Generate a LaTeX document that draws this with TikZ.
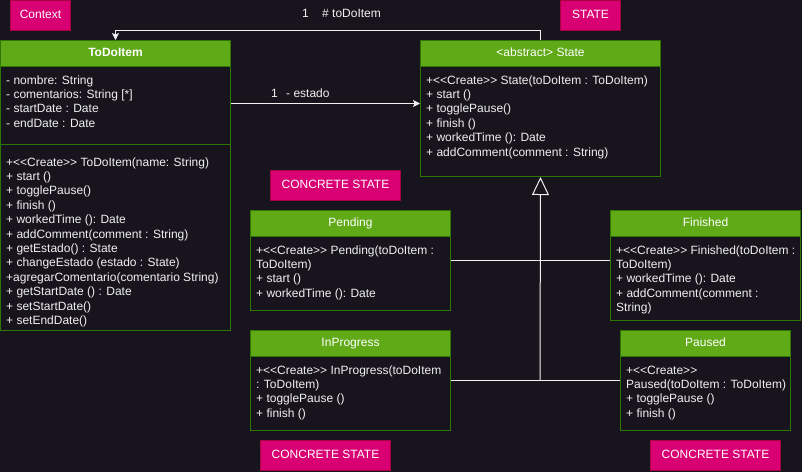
\documentclass[tikz,border=0pt]{standalone}
\usepackage{fontspec}
\setmainfont{Liberation Sans}
\usetikzlibrary{arrows.meta}
\definecolor{bg}{HTML}{18141D}
\definecolor{gfill}{HTML}{60A917}
\definecolor{gborder}{HTML}{2D7600}
\definecolor{pfill}{HTML}{D80073}
\definecolor{pborder}{HTML}{A50040}
\definecolor{fg}{HTML}{F0F0F0}
\newcommand\umltext[4]{%
  \foreach \t [count=\i from 0] in {#4} {
    \node[txt] (#1-\i) at (#2, #3+\i*14.4) {\t};
  }%
}
\begin{document}
\begin{tikzpicture}[x=1pt,y=-1pt,
  font=\fontsize{12}{14.4}\selectfont,
  hdr/.style={draw=gborder, fill=gfill, text=white, anchor=north west, inner sep=0, line width=1pt, text height=9pt, text depth=2.5pt},
  bodybox/.style={draw=gborder, fill=bg, anchor=north west, inner sep=0, line width=1pt},
  tag/.style={draw=pborder, fill=pfill, text=white, anchor=north west, inner sep=0, line width=1pt, minimum height=30, text height=9pt, text depth=2.5pt},
  txt/.style={text=fg, anchor=base west, inner sep=0},
  lbl/.style={text=fg, anchor=base west, inner sep=0},
  conn/.style={draw=fg, line width=1pt},
  arr/.style={conn, -{Stealth[length=7pt,width=7pt,inset=1.5pt]}},
  gen/.style={conn, -{Triangle[open, length=18pt, width=17pt]}}]
\useasboundingbox (0,0) rectangle (802,472);
\fill[bg] (0,0) rectangle (802,472);

% tags
\node[tag, minimum width=60] (ctx) at (10,0) {Context};
\node[tag, minimum width=60] (lstate) at (560,0) {STATE};
\node[tag, minimum width=130] (lcs1) at (270,170) {CONCRETE STATE};
\node[tag, minimum width=130] (lcs2) at (260,440) {CONCRETE STATE};
\node[tag, minimum width=130] (lcs3) at (650,440) {CONCRETE STATE};

% ToDoItem
\node[hdr, minimum width=230, minimum height=26, font=\fontsize{12}{14.4}\selectfont\bfseries] (todoH) at (0,40) {ToDoItem};
\node[bodybox, minimum width=230, minimum height=78] (todoA) at (0,66) {};
\node[bodybox, minimum width=230, minimum height=186] (todoM) at (0,144) {};
\umltext{ta}{6}{84}{{- nombre: String},{- comentarios: String [*]},{- startDate : Date},{- endDate : Date}}
\umltext{tm}{6}{166}{{+<{}<Create>{}> ToDoItem(name: String)},{+ start ()},{+ togglePause()},{+ finish ()},{+ workedTime (): Date},{+ addComment(comment : String)},{+ getEstado() : State},{+ changeEstado (estado : State)},{+agregarComentario(comentario String)},{+ getStartDate () : Date},{+ setStartDate()},{+ setEndDate()}}

% State
\node[hdr, minimum width=240, minimum height=26] (stateH) at (420,40) {<abstract> State};
\node[bodybox, minimum width=240, minimum height=110] (stateB) at (420,66) {};
\umltext{sb}{426}{84}{{+<{}<Create>{}> State(toDoItem : ToDoItem)},{+ start ()},{+ togglePause()},{+ finish ()},{+ workedTime (): Date},{+ addComment(comment : String)}}

% Pending
\node[hdr, minimum width=200, minimum height=26] (pendH) at (250,210) {Pending};
\node[bodybox, minimum width=200, minimum height=74] (pendB) at (250,236) {};
\umltext{pb}{256}{254}{{+<{}<Create>{}> Pending(toDoItem :},{ToDoItem)},{+ start ()},{+ workedTime (): Date}}

% Finished
\node[hdr, minimum width=190, minimum height=26] (finH) at (610,210) {Finished};
\node[bodybox, minimum width=190, minimum height=84] (finB) at (610,236) {};
\umltext{fb}{616}{254}{{+<{}<Create>{}> Finished(toDoItem :},{ToDoItem)},{+ workedTime (): Date},{+ addComment(comment :},{String)}}

% InProgress
\node[hdr, minimum width=200, minimum height=26] (inpH) at (250,330) {InProgress};
\node[bodybox, minimum width=200, minimum height=74] (inpB) at (250,356) {};
\umltext{ib}{256}{374}{{+<{}<Create>{}> InProgress(toDoItem},{: ToDoItem)},{+ togglePause ()},{+ finish ()}}

% Paused
\node[hdr, minimum width=170, minimum height=26] (pauH) at (620,330) {Paused};
\node[bodybox, minimum width=170, minimum height=74] (pauB) at (620,356) {};
\umltext{qb}{626}{374}{{+<{}<Create>{}>},{Paused(toDoItem : ToDoItem)},{+ togglePause ()},{+ finish ()}}

% connectors
\draw[arr] (stateH.north) -- ++(0,-10) -| (todoH.north);
\node[lbl] (m1) at (302,17) {1};
\node[lbl] (r1) at (322,17) {\# toDoItem};

\draw[arr] ([yshift=2pt]todoA.east) -- ([yshift=2pt]todoA.east -| stateB.west);
\node[lbl] (m2) at (271,97) {1};
\node[lbl] (r2) at (286,97) {- estado};

\coordinate (j1) at (540,260);
\coordinate (j2) at (540,380);
\draw[gen] (j2) -- (stateB.south);
\draw[conn] (pendB.east |- j1) -- (finB.west |- j1);
\draw[conn] (inpB.east |- j2) -- (pauB.west |- j2);
\end{tikzpicture}
\end{document}
